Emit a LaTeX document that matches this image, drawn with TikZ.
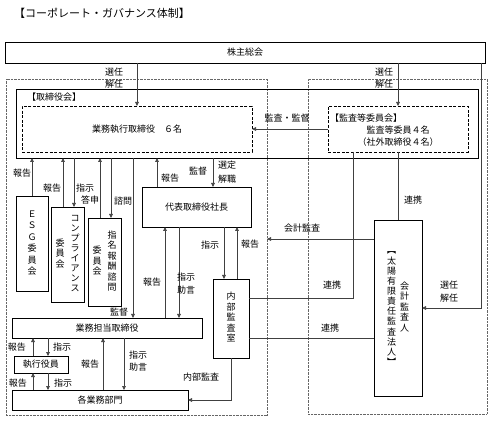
\documentclass[tikz,border=0pt]{standalone}
\usepackage{fontspec}
\setmainfont{Noto Sans CJK JP}
\usetikzlibrary{arrows.meta}

% vertical (tategaki) column of characters
\newcommand{\tate}[1]{\begin{tabular}[c]{@{}c@{}}#1\end{tabular}}

\begin{document}
\begin{tikzpicture}[x=1pt, y=-1pt,
    font=\fontsize{9}{10}\selectfont,
    box/.style={draw, line width=0.9pt, inner sep=0pt, outer sep=0pt},
    dashbox/.style={box, dash pattern=on 3pt off 1.6pt},
    area/.style={draw=black!60, line width=0.7pt, dash pattern=on 0.7pt off 0.7pt, inner sep=0pt, outer sep=0pt},
    link/.style={draw=black!75, line width=0.6pt},
    arr/.style={link, -{Triangle[length=4pt,width=3.6pt]}},
    lbl/.style={inner sep=0pt}]

    \useasboundingbox (0,0) rectangle (493,422);

    % 1. title, areas and the general meeting
    \node[lbl, anchor=west, font=\fontsize{11}{12}\selectfont] (title) at (14,13) {【コーポレート・ガバナンス体制】};
    \node[area, minimum width=261pt, minimum height=336pt] (execarea) at (136.5,247) {};
    \node[area, minimum width=179pt, minimum height=335pt] (auditarea) at (397.5,246.5) {};
    \node[box, minimum width=480pt, minimum height=21pt] (gm) at (245,52.5) {株主総会};

    % 2. board of directors
    \node[box, minimum width=462pt, minimum height=69pt] (board) at (247,123.5) {};
    \node[lbl, anchor=west] (boardlbl) at (27,97) {【取締役会】};
    \node[dashbox, minimum width=230pt, minimum height=46pt] (execdir) at (137,129) {業務執行取締役　６名};
    \node[dashbox, minimum width=140pt, minimum height=46pt] (acom) at (398,129) {};
    \node[lbl, anchor=west] (acomlbl) at (330,118) {【監査等委員会】};
    \node[lbl, align=center, font=\fontsize{9}{12}\selectfont] (acomtxt) at (398,136.5) {監査等委員４名\\（社外取締役４名）};

    % 3. committees and executive side
    \node[box, minimum width=32pt, minimum height=95pt, font=\fontsize{9}{11.5}\selectfont] (esg) at (32,243.5) {\tate{Ｅ\\Ｓ\\Ｇ\\委\\員\\会}};
    \node[box, minimum width=33pt, minimum height=95pt] (comp) at (67.5,254.5) {\tate{委\\員\\会}\hspace{6pt}\tate{コ\\ン\\プ\\ラ\\イ\\ア\\ン\\ス}};
    \node[box, minimum width=33pt, minimum height=88pt] (nom) at (104.5,262) {\tate{委\\員\\会}\hspace{6pt}\tate{指\\名\\報\\酬\\諮\\問}};
    \node[box, minimum width=109pt, minimum height=40pt] (ceo) at (196.5,207) {代表取締役社長};
    \node[box, minimum width=36pt, minimum height=79pt] (iao) at (231,318.5) {\tate{内\\部\\監\\査\\室}};
    \node[box, minimum width=48pt, minimum height=176pt] (auditor) at (398,308) {{\fontsize{9}{9}\selectfont\tate{︻\\太\\陽\\有\\限\\責\\任\\監\\査\\法\\人\\︼}}\hspace{4pt}\tate{会\\計\\監\\査\\人}};
    \node[box, minimum width=190pt, minimum height=20pt] (bizdir) at (107,328) {業務担当取締役};
    \node[box, minimum width=54pt, minimum height=17pt] (exo) at (41,364.5) {執行役員};
    \node[box, minimum width=176pt, minimum height=20pt] (depts) at (100,400) {各業務部門};

    % 4. where the connectors run
    \foreach \n/\x/\y in {compup/63/0, compdn/74/0, nomup/100/0, nomdn/111/0, supv/133/0,
        ceoup/157/0, ceodn/213/0, bizup/165/0, bizdn/179/0, iaodn/224/0, iaoup/237/0,
        coop/353/298, coop2/0/338, acct/0/239, appt/481/0,
        exoup/33/0, exodn/48/0, depup/103/0, depdn/124/0} {
        \coordinate (\n) at (\x,\y);
    }

    % 5. connectors
    \draw[arr] (gm.south -| execdir.north) -- (execdir.north);
    \draw[arr] (gm.south -| acom.north) -- (acom.north);
    \draw[arr] (acom.west) -- (execdir.east);
    \draw[arr] (esg.north) -- (esg.north |- board.south);
    \draw[arr] (comp.north -| compup) -- (board.south -| compup);
    \draw[arr] (board.south -| compdn) -- (comp.north -| compdn);
    \draw[arr] (nom.north -| nomup) -- (board.south -| nomup);
    \draw[arr] (board.south -| nomdn) -- (nom.north -| nomdn);
    \draw[arr] (board.south -| supv) -- (bizdir.north -| supv);
    \draw[arr] (ceo.north -| ceoup) -- (board.south -| ceoup);
    \draw[arr] (board.south -| ceodn) -- (ceo.north -| ceodn);
    \draw[arr] (bizdir.north -| bizup) -- (ceo.south -| bizup);
    \draw[arr] (ceo.south -| bizdn) -- (bizdir.north -| bizdn);
    \draw[arr] (ceo.south -| iaodn) -- (iao.north -| iaodn);
    \draw[arr] (iao.north -| iaoup) -- (ceo.south -| iaoup);
    \draw[link] (acom.south -| coop) |- (iao.east |- coop);
    \draw[link] (acom.south) -- (auditor.north);
    \draw[arr] (gm.south -| appt) |- (auditor.east);
    \draw[arr] (auditor.west |- acct) -- (execarea.east |- acct);
    \draw[link] (iao.east |- coop2) -- (auditor.west |- coop2);
    \draw[arr] (exo.north -| exoup) -- (bizdir.south -| exoup);
    \draw[arr] (bizdir.south -| exodn) -- (exo.north -| exodn);
    \draw[arr] (depts.north -| exoup) -- (exo.south -| exoup);
    \draw[arr] (exo.south -| exodn) -- (depts.north -| exodn);
    \draw[arr] (depts.north -| depup) -- (bizdir.south -| depup);
    \draw[arr] (bizdir.south -| depdn) -- (depts.north -| depdn);
    \draw[arr] (iao.south) |- (depts.east);

    % 6. connector labels
    \foreach \t/\x/\y [count=\i] in {選任/114/72, 解任/114/84, 選任/384/72, 解任/384/84,
        監査・監督/287/118, 報告/22/173, 報告/52/188, 指示/85/188, 答申/90/200, 諮問/123/201,
        監督/119/312, 報告/170/178, 監督/198/171, 選定/227/165, 解職/227/179,
        報告/152/282, 指示/186/277, 助言/186/290, 指示/210/245, 報告/250/244,
        連携/413/200, 会計監査/302/228, 連携/332/285, 連携/330/328, 選任/449/285, 解任/449/298,
        報告/17/347, 指示/62/347, 報告/18/383, 指示/63/383, 報告/90/364,
        指示/138/355, 助言/138/367, 内部監査/201/377} {
        \node[lbl] (lab\i) at (\x,\y) {\t};
    }

\end{tikzpicture}
\end{document}
